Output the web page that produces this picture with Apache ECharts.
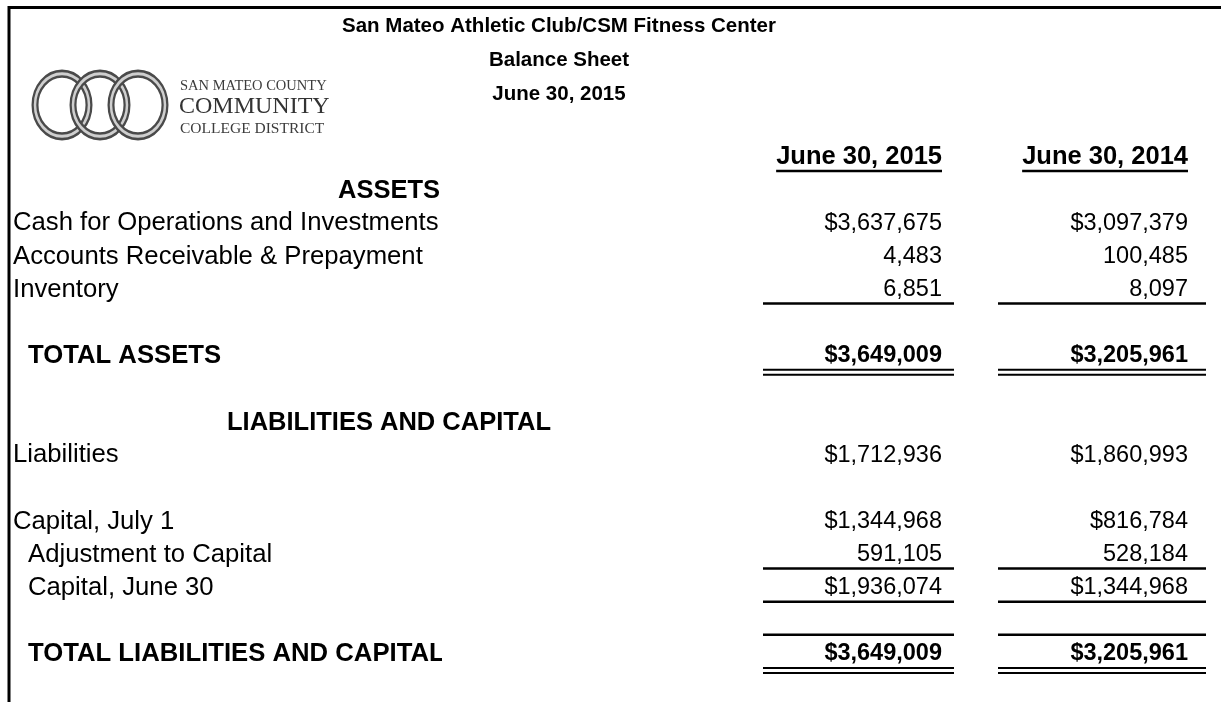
<!DOCTYPE html>
<html>
<head>
<meta charset="utf-8">
<title>Balance Sheet</title>
<script src="https://cdn.jsdelivr.net/npm/echarts@6/dist/echarts.min.js"></script>
<style>
  html, body { margin: 0; padding: 0; background: #fff; }
  #chart { width: 1221px; height: 702px; }
</style>
</head>
<body>
<div id="chart"></div>
<script>
// heading
const titleLines = ['San Mateo Athletic Club/CSM Fitness Center', 'Balance Sheet', 'June 30, 2015']
const logoLines = ['SAN MATEO COUNTY', 'COMMUNITY', 'COLLEGE DISTRICT']
const columnHeaders = ['June 30, 2015', 'June 30, 2014']

// line items, '' = empty sheet row
const lineItems = [
  'ASSETS',
  'Cash for Operations and Investments',
  'Accounts Receivable & Prepayment',
  'Inventory',
  '',
  'TOTAL ASSETS',
  '',
  'LIABILITIES AND CAPITAL',
  'Liabilities',
  '',
  'Capital, July 1',
  'Adjustment to Capital',
  'Capital, June 30',
  '',
  'TOTAL LIABILITIES AND CAPITAL'
]
const values2015 = [null, 3637675, 4483, 6851, null, 3649009, null, null, 1712936, null, 1344968, 591105, 1936074, null, 3649009]
const values2014 = [null, 3097379, 100485, 8097, null, 3205961, null, null, 1860993, null, 816784, 528184, 1344968, null, 3205961]

// how each line item row is drawn (kind / $ sign / indent / borders)
const rowFormats = [
  { kind: 'section' },
  { kind: 'item', dollar: true },
  { kind: 'item' },
  { kind: 'item', under: 1 },
  { kind: 'blank' },
  { kind: 'total', dollar: true, indent: true, under: 2 },
  { kind: 'blank' },
  { kind: 'section' },
  { kind: 'item', dollar: true },
  { kind: 'blank' },
  { kind: 'item', dollar: true },
  { kind: 'item', indent: true, under: 1 },
  { kind: 'item', dollar: true, indent: true, under: 1 },
  { kind: 'blank', under: 1 },
  { kind: 'total', dollar: true, indent: true, under: 2 }
]

const FONT = '"Liberation Sans", Arial, Helvetica, sans-serif'
const SERIF = '"Liberation Serif", "Times New Roman", serif'
const HEADER_ROW = 4 // sheet row of the column headers
const sheetRows = Array.from({ length: 20 }, (_, i) => String(i + 1))

// columns of the numbers: right edge of text, extent of the cell border
const numCols = [
  { right: 942, from: 763, to: 954 },
  { right: 1188, from: 998, to: 1206 }
]

const measureCtx = document.createElement('canvas').getContext('2d')
function textWidth(str, font) {
  measureCtx.font = font
  return measureCtx.measureText(str).width
}

function money(v, dollar) {
  const s = v.toLocaleString('en-US')
  return dollar ? '$' + s : s
}

function hLine(x1, x2, y, w) {
  return { type: 'line', shape: { x1: x1, y1: y, x2: x2, y2: y }, style: { stroke: '#000', lineWidth: w } }
}

function renderRow(params, api) {
  const i = params.dataIndex
  const row = api.value(0)
  const y = api.coord([0, row])[1]
  const ty = y + 2 // text sits a little low in the cell
  const children = []

  if (i === 0) {
    // column header row
    columnHeaders.forEach(function (h, c) {
      const col = numCols[c]
      const font = 'bold 25.5px ' + FONT
      const w = textWidth(h, font)
      children.push({
        type: 'text',
        style: { text: h, x: col.right, y: ty, align: 'right', verticalAlign: 'middle', font: font, fill: '#000' }
      })
      children.push(hLine(col.right - w, col.right, y + 16, 2.5))
    })
    return { type: 'group', children: children }
  }

  const k = i - 1
  const fmt = rowFormats[k]
  const label = lineItems[k]
  const bold = fmt.kind === 'section' || fmt.kind === 'total'

  if (label) {
    const font = (bold ? 'bold ' : '') + '25.7px ' + FONT
    if (fmt.kind === 'section') {
      children.push({
        type: 'text',
        style: { text: label, x: 389, y: ty + 1, align: 'center', verticalAlign: 'middle', font: 'bold 25.5px ' + FONT, fill: '#000' }
      })
    } else {
      // label column is cut off where the number columns begin
      children.push({
        type: 'text',
        style: { text: label, x: fmt.indent ? 28 : 13, y: ty, align: 'left', verticalAlign: 'middle', font: font, fill: '#000' },
        clipPath: { type: 'rect', shape: { x: 10, y: y - 20, width: 432, height: 44 } }
      })
    }
  }

  [values2015[k], values2014[k]].forEach(function (v, c) {
    const col = numCols[c]
    if (v != null) {
      children.push({
        type: 'text',
        style: {
          text: money(v, fmt.dollar), x: col.right, y: ty, align: 'right', verticalAlign: 'middle',
          font: (bold ? 'bold ' : '') + '23.5px ' + FONT, fill: '#000'
        }
      })
    }
    if (fmt.under === 1) children.push(hLine(col.from, col.to, y + 16, 2.5))
    if (fmt.under === 2) {
      children.push(hLine(col.from, col.to, y + 16, 2))
      children.push(hLine(col.from, col.to, y + 21, 2))
    }
  })

  return { type: 'group', children: children }
}

function ring(cx) {
  return [
    { type: 'circle', x: cx, y: 105, scaleY: 1.16, shape: { cx: 0, cy: 0, r: 27 }, style: { fill: 'none', stroke: '#4a4a4a', lineWidth: 7 } },
    { type: 'circle', x: cx, y: 105, scaleY: 1.16, shape: { cx: 0, cy: 0, r: 27 }, style: { fill: 'none', stroke: '#cfcfcf', lineWidth: 2.5 } }
  ]
}

const rowData = [[HEADER_ROW]].concat(lineItems.map(function (_, k) { return [HEADER_ROW + 1 + k] }))

const chart = echarts.init(document.getElementById('chart'))
chart.setOption({
  animation: false,
  backgroundColor: '#fff',
  grid: { left: 0, right: 0, top: 6, bottom: 33.5 },
  xAxis: { type: 'value', min: 0, max: 1221, show: false },
  yAxis: { type: 'category', data: sheetRows, inverse: true, show: false },
  graphic: [
    // sheet border
    { type: 'line', shape: { x1: 8, y1: 7.5, x2: 1221, y2: 7.5 }, style: { stroke: '#000', lineWidth: 3 } },
    { type: 'line', shape: { x1: 9, y1: 6, x2: 9, y2: 702 }, style: { stroke: '#000', lineWidth: 3 } },
    // heading
    ...titleLines.map(function (t, i) {
      return {
        type: 'text', x: 559, y: 26 + 34 * i,
        style: { text: t, align: 'center', verticalAlign: 'middle', font: 'bold 20.5px ' + FONT, fill: '#000' }
      }
    }),
    // district logo
    ...ring(62), ...ring(100), ...ring(138),
    { type: 'text', x: 180, y: 86, style: { text: logoLines[0], verticalAlign: 'middle', font: '14.5px ' + SERIF, fill: '#3c3c3c' } },
    { type: 'text', x: 179, y: 107, style: { text: logoLines[1], verticalAlign: 'middle', font: '24px ' + SERIF, fill: '#333' } },
    { type: 'text', x: 180, y: 129, style: { text: logoLines[2], verticalAlign: 'middle', font: '15.5px ' + SERIF, fill: '#3c3c3c' } }
  ],
  series: [{
    type: 'custom',
    data: rowData,
    renderItem: renderRow,
    clip: false
  }]
})
</script>
</body>
</html>
